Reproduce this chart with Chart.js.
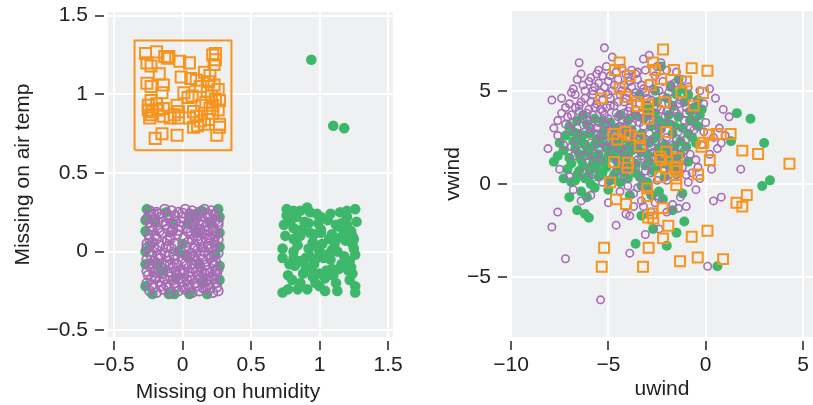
<!DOCTYPE html>
<html>
<head>
<meta charset="utf-8">
<script src="https://cdn.jsdelivr.net/npm/chart.js@4.4.0/dist/chart.umd.min.js"></script>
<style>
  body { margin: 0; background: #fff; width: 813px; height: 405px; position: relative; overflow: hidden; }
  #left { position: absolute; left: 0; top: 0; }
  #right { position: absolute; left: 410px; top: 0; }
  /* matplotlib put this label off-centre, so it is plain html */
  #humLabel { position: absolute; left: 78px; top: 379px; width: 300px; text-align: center;
    font: 21px "Liberation Sans", Arial, sans-serif; line-height: 24px; color: #222; }
</style>
</head>
<body>
<canvas id="left" width="410" height="405"></canvas>
<canvas id="right" width="403" height="405"></canvas>
<div id="humLabel">Missing on humidity</div>
<script>
// ---- left panel: jittered missingness plot ----
const humTicks = [-0.5, 0, 0.5, 1, 1.5];
const airTicks = [-0.5, 0, 0.5, 1, 1.5];
const airBox = [[-0.35, 0.645], [0.357, 1.343]];

const missAir = [
  [-0.27,1.26],[-0.19,1.27],[-0.11,1.23],[-0.1,1.24],[-0.02,1.21],[0.05,1.2],[0.22,1.25],[0.24,1.22],[0.23,1.19],
  [-0.26,1.2],[-0.23,1.18],[-0.17,1.13],[-0.01,1.11],[0.06,1.1],[0.16,1.14],[0.19,1.08],[0.13,1.05],[0.23,1.06],
  [0.26,1.03],[-0.26,1.07],[-0.23,1.05],[-0.14,1.06],[-0.15,1.01],[0.01,1.01],[0.07,0.99],[0.04,0.98],[0.18,1.02],
  [0.21,0.99],[0.24,0.97],[0.27,0.96],[-0.23,0.96],[-0.25,0.9],[-0.22,0.89],[-0.23,0.87],[-0.14,0.91],[-0.14,0.86],
  [-0.09,0.85],[-0.04,0.93],[-0.03,0.89],[-0.03,0.85],[0.08,0.89],[0.1,0.86],[0.13,0.83],[0.08,0.79],[0.16,0.81],
  [0.2,0.91],[0.22,0.88],[0.27,0.81],[0.27,0.79],[0.25,0.74],[-0.2,0.72],[-0.15,0.75],[-0.04,0.74],[0.11,0.8],
  [-0.25,0.93],[-0.19,0.94],[0.17,0.95],[0.2,1.12],[0.14,0.93],[-0.06,0.87],[0.1,1.09],[0.24,1.26],[-0.13,1.24],
  [0.19,0.84],[-0.24,0.85],[0.05,0.85],[0.22,0.93],[-0.18,0.9],[0.26,0.9]
];

const missHum = [
  [0.76,0.27],[0.76,0.23],[0.81,0.26],[0.86,0.26],[0.91,0.28],[0.93,0.25],[1.01,0.22],[1.15,0.25],[1.2,0.26],[1.26,0.27],
  [0.81,0.15],[0.84,0.13],[0.81,0.08],[0.86,0.1],[0.92,0.18],[0.99,0.18],[1.01,0.14],[1.01,0.12],[0.96,0.11],[1.09,0.11],
  [1.12,0.17],[1.14,0.16],[1.16,0.18],[1.17,0.15],[1.15,0.09],[1.18,0.12],[1.2,0.17],[1.23,0.13],[1.24,0.1],[1.25,0.08],
  [1.24,0.05],[1.25,0.02],[1.26,-0.02],[0.73,0.02],[0.73,-0.04],[0.81,0.0],[0.81,-0.04],[0.86,-0.06],[0.9,-0.04],[0.93,-0.03],
  [0.97,-0.05],[0.98,0.03],[1.0,0.0],[1.03,-0.04],[1.08,-0.05],[1.09,0.01],[0.82,-0.09],[0.94,-0.11],[0.95,-0.16],[1.0,-0.14],
  [1.05,-0.12],[1.09,-0.11],[1.14,-0.11],[1.04,-0.17],[1.22,-0.06],[1.23,-0.1],[1.24,-0.14],[0.77,-0.15],[0.77,-0.24],[0.73,-0.26],
  [0.86,-0.2],[0.91,-0.24],[1.0,-0.22],[1.04,-0.25],[1.26,-0.22],[1.26,-0.26],[0.79,0.2],[0.89,0.19],[1.06,0.2],[1.11,0.05],
  [0.95,0.06],[0.88,-0.14],[1.12,-0.2],[1.18,-0.03],[0.83,0.22],[1.2,0.22],[1.22,-0.18],[0.97,-0.2],[0.8,-0.18],[1.07,0.08],
  [0.92,0.02],[0.75,0.1],[0.78,-0.08],[0.84,0.04],[0.87,0.14],[0.9,-0.1],[0.93,0.12],[0.96,-0.08],[1.02,0.05],[1.05,-0.02],
  [1.1,-0.15],[1.13,0.0],[1.16,-0.08],[1.19,0.07],[1.21,-0.12],[0.84,-0.24],[0.98,0.24],[1.08,0.24],[1.13,-0.25],[0.74,0.17],
  [1.27,0.19],[0.94,1.22],[1.1,0.8],[1.18,0.785],
  // green underneath the observed block
  [-0.26,0.27],[0.26,0.27],[-0.27,0.13],[-0.27,-0.08],[-0.27,-0.22],[0.27,0.22],[0.27,0.03],[0.27,-0.18],[-0.1,-0.27],
  [0.05,-0.27],[0.18,-0.27],[-0.22,-0.27],[0.0,0.05],[-0.03,0.0],[0.02,-0.02],[-0.14,-0.12],[-0.16,-0.13],[0.1,0.13],
  [-0.2,0.19],[0.15,-0.2],[0.08,0.23],[-0.08,0.18],[0.24,-0.02],[-0.24,0.04],[0.2,0.19],[-0.18,-0.08],[0.12,-0.08],
  [-0.05,-0.17],[0.04,0.18],[-0.12,0.25],[0.14,0.26],[-0.27,0.2],[0.27,-0.09],[0.27,0.12],[-0.27,0.0],[-0.06,-0.27]
];

const observed = [
  [-0.24,0.26],[-0.19,0.25],[-0.13,0.27],[-0.08,0.26],[-0.03,0.25],[0.02,0.27],[0.07,0.26],[0.12,0.25],[0.16,0.27],[0.21,0.26],[0.25,0.25],
  [-0.26,0.21],[-0.21,0.2],[-0.16,0.22],[-0.1,0.21],[-0.05,0.19],[0.0,0.22],[0.05,0.2],[0.1,0.21],[0.15,0.19],[0.19,0.22],[0.24,0.2],
  [-0.23,0.16],[-0.18,0.15],[-0.12,0.17],[-0.07,0.14],[-0.02,0.16],[0.03,0.15],[0.08,0.17],[0.13,0.14],[0.17,0.16],[0.22,0.15],[0.26,0.17],
  [-0.25,0.11],[-0.2,0.1],[-0.15,0.12],[-0.09,0.1],[-0.04,0.11],[0.01,0.09],[0.06,0.12],[0.11,0.1],[0.16,0.11],[0.2,0.09],[0.25,0.12],
  [-0.26,0.05],[-0.22,0.06],[-0.17,0.04],[-0.11,0.07],[-0.06,0.05],[0.04,0.06],[0.09,0.04],[0.14,0.07],[0.19,0.05],[0.23,0.06],
  [-0.24,0.0],[-0.19,0.01],[-0.13,-0.01],[-0.08,0.02],[-0.01,0.0],[0.06,-0.01],[0.11,0.01],[0.16,0.0],[0.21,0.02],[0.26,-0.01],
  [-0.26,-0.05],[-0.21,-0.06],[-0.16,-0.04],[-0.11,-0.06],[-0.06,-0.05],[0.0,-0.06],[0.05,-0.04],[0.1,-0.06],[0.15,-0.05],[0.2,-0.04],[0.24,-0.06],
  [-0.23,-0.1],[-0.18,-0.11],[-0.13,-0.09],[-0.07,-0.1],[-0.02,-0.12],[0.03,-0.09],[0.08,-0.11],[0.13,-0.1],[0.18,-0.12],[0.23,-0.09],[0.26,-0.11],
  [-0.25,-0.15],[-0.2,-0.16],[-0.15,-0.14],[-0.09,-0.16],[-0.04,-0.15],[0.01,-0.14],[0.06,-0.16],[0.11,-0.15],[0.16,-0.14],[0.21,-0.16],[0.25,-0.15],
  [-0.26,-0.2],[-0.22,-0.21],[-0.17,-0.19],[-0.12,-0.21],[-0.06,-0.2],[-0.01,-0.19],[0.04,-0.21],[0.09,-0.2],[0.14,-0.19],[0.19,-0.21],[0.24,-0.2],
  [-0.24,-0.25],[-0.19,-0.26],[-0.14,-0.24],[-0.09,-0.26],[-0.03,-0.25],[0.02,-0.24],[0.07,-0.26],[0.12,-0.25],[0.17,-0.24],[0.22,-0.26],[0.26,-0.25],
  [-0.21,0.24],[0.05,0.24],[-0.14,0.19],[0.12,0.18],[-0.08,0.13],[0.18,0.13],[-0.19,0.08],[0.07,0.08],[-0.16,-0.02],[0.19,-0.02],
  [-0.1,-0.13],[0.14,-0.13],[-0.2,-0.17],[0.07,-0.18],[-0.05,-0.22],[0.2,-0.23],[0.02,0.03],[-0.12,0.03],[0.24,0.1],
  [-0.23,0.235],[-0.17,0.24],[-0.11,0.235],[-0.055,0.23],[0.0,0.245],[0.085,0.235],[0.14,0.225],[0.185,0.24],[0.23,0.235],
  [-0.24,0.185],[-0.18,0.19],[-0.07,0.18],[-0.01,0.19],[0.075,0.19],[0.21,0.18],[0.26,0.19],
  [-0.22,0.135],[-0.17,0.13],[-0.11,0.145],[-0.03,0.135],[0.04,0.125],[0.09,0.14],[0.14,0.12],[0.23,0.13],
  [-0.24,0.08],[-0.09,0.08],[0.11,0.07],[0.17,0.085],[0.26,0.075],
  [-0.26,0.025],[-0.21,0.03],[-0.1,0.035],[0.09,0.02],[0.14,0.03],[0.19,0.025],[0.24,0.035],
  [-0.23,-0.025],[-0.18,-0.03],[-0.1,-0.03],[-0.06,-0.02],[0.03,-0.025],[0.08,-0.03],[0.13,-0.02],[0.23,-0.025],
  [-0.24,-0.08],[-0.19,-0.075],[-0.09,-0.08],[-0.04,-0.085],[0.02,-0.075],[0.07,-0.08],[0.12,-0.075],[0.17,-0.085],[0.22,-0.07],
  [-0.26,-0.125],[-0.21,-0.13],[-0.05,-0.125],[0.0,-0.12],[0.05,-0.13],[0.1,-0.125],[0.2,-0.135],[0.24,-0.125],
  [-0.23,-0.175],[-0.13,-0.17],[-0.07,-0.18],[-0.02,-0.17],[0.03,-0.18],[0.13,-0.17],[0.18,-0.18],[0.23,-0.175],
  [-0.21,-0.23],[-0.16,-0.22],[-0.1,-0.23],[0.0,-0.225],[0.05,-0.23],[0.1,-0.22],[0.15,-0.23],[0.25,-0.225]
];

// ---- right panel: uwind vs vwind ----
const uTicks = [-10, -5, 0, 5];
const vTicks = [-5, 0, 5];

const windMissAir = [
  [-2.19,7.21],[-4.42,6.52],[-4.66,6.11],[-2.71,6.52],[-2.6,6.11],[-1.63,6.11],[-0.72,6.21],[0.09,6.07],[-3.9,5.79],[-2.28,5.63],
  [-1.01,5.5],[-2.83,5.29],[-4.42,5.11],[-1.25,4.91],[-0.14,4.88],[-5.36,4.59],[-4.11,4.68],[-3.54,4.38],[-2.95,4.27],[-2.11,4.38],
  [-0.62,4.2],[-3.49,4.18],[-2.96,4.02],[-2.95,3.5],[-2.02,2.79],[-4.74,2.68],[-4.13,2.79],[-3.9,2.61],[-4.54,2.39],[-3.41,2.45],
  [-3.39,2.04],[0.17,2.64],[0.57,2.68],[1.28,2.68],[-0.12,2.21],[-0.22,2.0],[1.88,1.79],[2.69,1.61],[4.3,1.09],[0.21,1.29],
  [-2.02,1.73],[-2.35,1.46],[-2.28,1.29],[-1.46,1.38],[-4.71,1.18],[-3.99,1.14],[-4.02,0.88],[-2.05,0.84],[-1.58,0.93],[-1.46,0.7],
  [-0.39,0.52],[-2.35,0.39],[-1.51,0.3],[-1.51,-0.05],[-4.91,0.09],[-3.0,-0.23],[-3.0,-0.64],[-4.61,-0.82],[-4.09,-1.07],[1.58,-1.0],
  [2.11,-0.59],[1.88,-1.21],[-2.76,-1.57],[-2.69,-1.84],[-2.96,-1.79],[-2.21,-1.29],[-1.92,-2.23],[0.09,-2.5],[-0.72,-2.82],[-2.19,-2.91],
  [-5.22,-3.41],[-2.93,-3.41],[-5.34,-4.43],[-3.22,-4.43],[-1.32,-4.13],[-0.41,-3.93],[0.89,-4.02]
];

const windMissHum = [
  [-2.3,6.3],[-1.4,5.6],[-1.8,5.2],[-2.6,5.0],[-0.9,4.8],[-1.1,4.4],[-0.6,4.1],[-2.0,4.6],[-3.0,4.2],[-3.4,4.8],[-0.3,3.7],[-0.8,3.9],
  [-7.0,3.1],[-6.6,3.4],[-6.1,3.2],[-5.7,3.5],[-4.9,3.3],[-4.0,3.4],[-3.2,3.5],[-2.6,3.8],[-2.0,3.3],[-1.4,3.6],[-0.8,3.4],[-0.4,3.1],
  [1.6,3.8],[2.3,3.5],[-2.3,3.0],[-1.2,3.0],
  [-7.2,2.6],[-6.8,2.8],[-6.4,2.3],[-6.0,2.7],[-5.6,2.4],[-5.2,2.9],[-4.8,2.5],[-4.5,2.1],[-4.1,2.8],[-3.7,2.3],[-3.3,2.7],[-2.9,2.2],
  [-2.5,2.6],[-2.1,2.1],[-1.7,2.7],[-1.3,2.3],[-0.7,2.5],[1.3,2.3],[3.0,2.2],[-6.2,2.1],[-5.4,2.2],
  [-7.3,1.8],[-7.0,1.4],[-6.7,1.9],[-6.4,1.3],[-6.1,1.7],[-5.8,1.1],[-5.5,1.6],[-5.2,1.2],[-4.9,1.8],[-4.6,1.3],[-4.3,1.9],[-4.0,1.5],
  [-3.6,1.1],[-3.3,1.7],[-2.9,1.2],[-2.5,1.6],[-2.2,1.1],[-1.8,1.5],[-1.5,1.2],[-7.8,1.2],[-6.9,1.1],[-5.9,1.5],[-3.8,1.8],
  [-7.3,0.3],[-6.9,0.1],[-6.5,0.7],[-6.2,0.3],[-5.9,0.8],[-5.5,0.4],[-5.1,0.9],[-4.7,0.5],[-4.3,0.8],[-4.0,0.3],[-3.6,0.6],[-3.0,0.1],
  [-2.7,0.7],[-2.1,0.4],[-1.6,0.8],[-5.9,0.0],[2.9,-0.1],[3.3,0.2],[-6.6,0.5],
  [-6.4,-0.4],[-7.0,-0.7],[-6.6,-1.4],[-6.2,-1.6],[-6.0,-1.8],[-5.0,-0.3],[-3.0,-0.2],[-2.8,-0.6],[-2.2,-0.8],[-1.7,-1.4],[-3.3,-1.7],
  [-2.7,-2.4],[-1.5,-2.6],[-2.0,-3.3],[-3.6,-3.2],[0.6,-4.4],[-2.4,-0.4],[-3.9,-0.6],
  [-6.8,2.3],[-6.5,1.6],[-6.3,2.6],[-6.0,1.9],[-5.7,2.1],[-5.5,1.3],[-5.3,2.6],[-5.0,1.5],[-4.8,2.1],[-4.6,1.7],[-4.3,2.4],[-4.1,1.2],
  [-3.9,2.1],[-3.5,1.9],[-3.2,2.3],[-3.0,1.6],[-2.7,2.4],[-2.4,1.9],[-2.0,1.7],[-1.6,2.0],[-7.1,0.8],[-6.7,0.2],[-6.3,1.0],[-6.0,0.5],
  [-5.6,0.9],[-5.3,0.6],[-4.9,0.2],[-4.5,0.9],[-4.2,0.6],[-3.8,0.9],[-3.4,0.4],[-2.5,0.9],[-1.9,1.0],[-1.3,1.6],[-1.0,2.0],[-0.9,2.7],
  [-0.5,2.2],[-1.6,3.1],[-1.9,3.7],[-2.4,3.4],[-2.8,3.1],[-3.6,3.7],[-4.4,3.7],[-5.3,3.4],[-6.3,3.7],[-7.5,2.2],[-7.6,1.5],[-0.4,4.5],
  [-1.5,4.8],[-2.5,4.4],[-1.2,5.1],[-0.6,3.4],[-0.2,4.0],[-1.7,4.2],[-2.9,3.8],[-3.8,2.9],[-4.6,3.0],[-5.9,2.8],[-6.6,2.7],[-5.1,2.0],
  [-4.4,1.5],[-3.1,1.0],[-2.3,1.4],[-1.4,0.6],[-0.9,1.2],[-5.7,-0.2],[-4.4,0.1],[-3.3,-0.1],[-6.1,-0.7],[-1.1,-2.0],[-1.2,-0.5]
];

const windObserved = [
  [-5.2,7.3],[-4.8,6.8],[-6.5,6.5],[-2.9,6.9],[-3.2,6.7],[-2.3,6.5],[-3.8,6.1],[-3.5,6.0],[-5.5,6.1],[-5.6,5.9],[-4.6,6.0],[-2.0,6.1],
  [-1.5,6.0],[-3.6,5.9],
  [-6.8,5.1],[-6.3,5.3],[-6.0,5.5],[-5.8,5.0],[-5.5,5.4],[-5.2,5.2],[-5.0,5.5],[-4.8,5.0],[-4.5,5.6],[-4.2,5.3],[-4.0,5.7],[-3.8,5.2],
  [-3.5,5.6],[-3.2,5.1],[-2.9,5.4],[-2.6,5.8],[-2.4,5.0],[-1.8,5.3],[-1.2,5.6],[-0.9,5.2],[0.2,5.1],[-6.6,5.6],[-4.9,5.8],[-5.9,5.7],
  [-7.9,4.5],[-7.4,4.6],[-7.0,4.3],[-6.7,4.8],[-6.5,4.2],[-6.2,4.6],[-6.0,4.0],[-5.8,4.8],[-5.6,4.3],[-5.4,4.9],[-5.1,4.1],[-4.9,4.6],
  [-4.7,4.2],[-4.4,4.8],[-4.2,4.4],[-3.9,4.1],[-3.7,4.7],[-3.4,4.3],[-3.1,4.9],[-2.8,4.5],[-2.5,4.1],[-2.2,4.7],[-1.9,4.3],[-1.6,4.0],
  [-1.3,4.5],[-1.0,4.1],[-0.7,4.4],[-6.9,4.9],[-5.3,4.5],[-4.0,4.9],
  [-7.4,3.8],[-7.1,3.6],[-6.8,3.3],[-6.5,3.9],[-6.3,3.5],[-6.0,3.1],[-5.8,3.7],[-5.5,3.3],[-5.3,3.9],[-5.0,3.5],[-4.8,3.0],[-4.6,3.8],
  [-4.3,3.4],[-4.0,3.9],[-3.8,3.2],[-3.5,3.6],[-3.2,3.1],[-3.0,3.8],[-2.7,3.4],[-2.4,3.0],[-2.1,3.6],[-1.8,3.2],[-1.5,3.8],[-1.1,3.4],
  [-0.8,3.0],[-0.5,3.6],[0.9,4.0],[1.2,3.6],[0.7,3.0],[-6.1,3.4],[-4.4,3.1],[-2.9,3.3],
  [-7.6,2.6],[-7.0,2.9],[-6.6,2.4],[-6.2,2.8],[-5.9,2.2],[-5.6,2.7],[-5.3,2.3],[-5.0,2.9],[-4.7,2.1],[-4.4,2.6],[-4.1,2.2],[-3.8,2.8],
  [-3.5,2.4],[-3.2,2.0],[-2.9,2.7],[-2.6,2.3],[-2.3,2.9],[-2.0,2.5],[-1.7,2.1],[-1.4,2.8],[-1.0,2.4],[-0.6,2.9],[0.8,2.2],[0.4,2.5],[-0.2,2.1],
  [-8.1,1.9],[-6.8,1.5],[-6.4,1.8],[-6.0,1.2],[-5.7,1.6],[-5.4,1.3],[-5.1,1.9],[-4.8,1.4],[-4.5,1.1],[-4.2,1.7],[-3.9,1.3],[-3.6,1.9],
  [-3.3,1.5],[-3.0,1.1],[-2.7,1.7],[-2.4,1.2],[-2.1,1.8],[-1.8,1.4],[-1.4,1.0],[-1.1,1.8],[0.2,1.6],[-0.5,1.3],
  [-7.5,0.8],[-6.3,0.6],[-5.0,0.2],[-4.6,0.7],[-4.2,0.4],[-3.6,0.9],[-3.3,0.3],[-2.8,0.6],[-2.5,0.2],[-2.2,0.8],[-1.9,0.5],[-0.4,0.9],
  [-0.3,0.3],[-0.9,0.1],[1.8,0.8],[-5.3,0.1],
  [-4.0,-0.1],[-3.7,-0.5],[-3.3,-0.9],[-3.7,-1.2],[-4.1,-1.6],[-3.9,-1.7],[-3.2,-1.2],[-2.4,-0.8],[-2.4,-2.4],[-1.3,-0.7],[0.4,-0.9],
  [0.8,-0.7],[-6.4,-0.9],[-7.6,-1.5],[-7.9,-2.3],[-7.2,-4.0],[-3.9,-3.7],[0.1,-4.4],[-5.4,-6.2],[-2.9,-0.4],[-2.0,-1.5],[-1.7,-1.1],
  [-6.2,5.0],[-5.9,4.4],[-5.7,5.2],[-5.4,4.0],[-5.0,4.8],[-4.7,5.3],[-4.5,4.4],[-4.3,5.0],[-4.1,4.6],[-3.9,5.5],[-3.6,4.9],[-3.3,5.3],
  [-3.0,4.6],[-2.7,5.1],[-6.4,4.4],[-6.1,3.8],[-5.7,4.1],[-5.2,3.7],[-4.9,4.2],[-4.5,3.6],[-4.2,3.8],[-3.9,3.5],[-3.6,4.0],[-3.3,3.8],
  [-5.9,3.0],[-5.4,2.6],[-5.1,3.2],[-4.6,2.8],[-4.2,3.0],[-3.7,2.6],[-3.4,3.3],[-6.7,4.1],[-7.2,4.1],[-7.6,3.4],[-6.9,3.7],[-6.4,5.9],
  [-5.1,6.3],[-4.3,6.2],[-3.1,6.1],[-2.5,6.3],[-5.3,5.8],[-4.1,5.9],[-2.2,5.5],[-1.6,5.4],[-1.9,4.9],[-1.4,4.3],[-1.0,3.8],[-2.3,4.0],
  [-2.0,3.9],[-5.6,3.0],[-6.6,3.0],[-7.2,3.2],[-4.9,2.4],[-4.0,2.5],[-3.1,2.4],[-2.2,2.2],[-1.5,2.4],[-2.8,2.0],[-4.4,1.9],[-5.5,1.9],
  [-6.2,1.5],[-3.5,1.3],[-2.6,1.4],[-1.6,1.7],[-1.2,1.3],[-0.8,1.6],[-4.0,0.9],[-3.1,0.7],[-2.0,0.2],[-1.5,0.5],[-1.2,0.9],[-0.7,0.6],
  [-3.5,-0.2],[-2.6,-1.0],[-2.8,-1.5],[-1.4,-1.3],[-1.0,0.5],[-4.4,-0.4],[-5.8,0.5],[-7.0,0.4],[-6.9,2.0],[-7.3,2.1],[-7.8,3.0],[-0.1,4.3],
  [0.5,4.6],[-0.3,5.0],[0.0,3.3],[-0.1,2.8],[1.0,2.6],[0.3,0.8],[0.6,1.9],[-0.5,-0.3],[-1.0,-1.2],[-3.1,-2.7],[-4.6,-2.2],[-5.0,-1.0],
  [-5.9,-0.6],[-6.8,-0.3]
];

const ORANGE = "#F7941D";
const PURPLE = "#A66CB4";
const GREEN = "#3DB86A";
const FONT = { family: "'Liberation Sans', Arial, sans-serif", size: 21 };
const INK = "#222";

const toXY = (pts) => pts.map((p) => ({ x: p[0], y: p[1] }));
const fmt = (v) => (v < 0 ? "\u2212" : "") + Math.abs(v);

// grey panel behind the grid
const panelBg = {
  id: "panelBg",
  beforeDraw(chart) {
    const { ctx, chartArea: a } = chart;
    ctx.save();
    ctx.fillStyle = "#EFF0F2";
    ctx.fillRect(a.left, a.top, a.right - a.left, a.bottom - a.top);
    ctx.restore();
  },
};

function axis(ticks, min, max, horizontal, title, titlePad) {
  return {
    type: "linear",
    min: min,
    max: max,
    afterBuildTicks: (s) => { s.ticks = ticks.map((v) => ({ value: v })); },
    border: { display: false },
    grid: {
      color: "#ffffff",
      lineWidth: 2,
      tickColor: INK,
      tickWidth: 1.5,
      tickLength: 13,
      // tick mark with a small gap next to the panel
      tickBorderDash: [9, 4],
      tickBorderDashOffset: horizontal ? 9 : 0,
    },
    ticks: {
      color: INK,
      font: FONT,
      padding: horizontal ? 3 : 7,
      autoSkip: false,
      maxRotation: 0,
      callback: fmt,
    },
    title: {
      display: !!title,
      text: title,
      color: INK,
      font: FONT,
      padding: horizontal ? { top: 0, bottom: 3 } : { top: titlePad, bottom: 0 },
    },
  };
}

function baseOptions(xScale, yScale, padRight, padTop, yWidth) {
  // fixed axis boxes, and no extra room for the end labels
  xScale.afterFit = (s) => { s.height = 68; s.paddingLeft = 0; s.paddingRight = 0; };
  yScale.afterFit = (s) => { s.width = yWidth; s.paddingTop = 0; s.paddingBottom = 0; };
  return {
    responsive: false,
    animation: false,
    layout: { autoPadding: false, padding: { left: 0, right: padRight, top: padTop, bottom: 0 } },
    plugins: { legend: { display: false }, tooltip: { enabled: false } },
    scales: { x: xScale, y: yScale },
  };
}

// Left chart
new Chart(document.getElementById("left").getContext("2d"), {
  type: "scatter",
  data: {
    datasets: [
      {
        data: [
          { x: airBox[0][0], y: airBox[0][1] },
          { x: airBox[0][0], y: airBox[1][1] },
          { x: airBox[1][0], y: airBox[1][1] },
          { x: airBox[1][0], y: airBox[0][1] },
          { x: airBox[0][0], y: airBox[0][1] },
        ],
        showLine: true,
        borderColor: ORANGE,
        borderWidth: 2,
        pointRadius: 0,
        fill: false,
      },
      {
        data: toXY(missAir),
        pointStyle: "rect",
        pointRadius: 7.8,
        borderColor: ORANGE,
        borderWidth: 2,
        backgroundColor: "rgba(0,0,0,0)",
      },
      {
        data: toXY(observed),
        pointRadius: 4.6,
        borderColor: PURPLE,
        borderWidth: 1.8,
        backgroundColor: "rgba(0,0,0,0)",
      },
      {
        data: toXY(missHum),
        pointRadius: 5.3,
        borderWidth: 0,
        backgroundColor: GREEN,
      },
    ],
  },
  options: baseOptions(
    axis(humTicks, -0.544, 1.536, true, ""),
    axis(airTicks, -0.543, 1.5235, false, "Missing on air temp", 11),
    17, 12, 108
  ),
  plugins: [panelBg],
});

// Right chart
new Chart(document.getElementById("right").getContext("2d"), {
  type: "scatter",
  data: {
    datasets: [
      {
        data: toXY(windMissAir),
        pointStyle: "rect",
        pointRadius: 7,
        borderColor: ORANGE,
        borderWidth: 2,
        backgroundColor: "rgba(0,0,0,0)",
      },
      {
        data: toXY(windObserved),
        pointRadius: 3.7,
        borderColor: PURPLE,
        borderWidth: 1.6,
        backgroundColor: "rgba(0,0,0,0)",
      },
      {
        data: toXY(windMissHum),
        pointRadius: 5,
        borderWidth: 0,
        backgroundColor: GREEN,
      },
    ],
  },
  options: baseOptions(
    axis(uTicks, -10, 5.51, true, "uwind"),
    axis(vTicks, -8.19, 9.27, false, "vwind", 31),
    0, 11, 101
  ),
  plugins: [panelBg],
});
</script>
</body>
</html>
